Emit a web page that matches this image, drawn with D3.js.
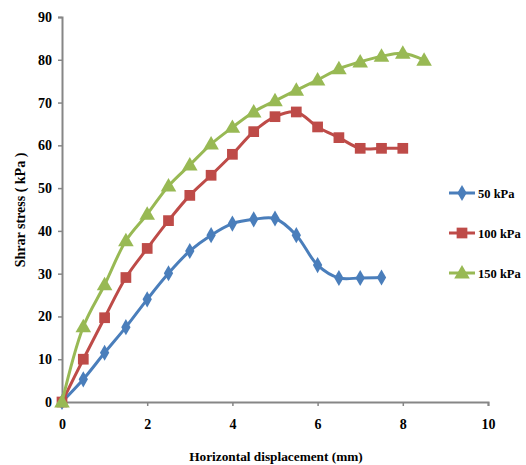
<!DOCTYPE html>
<html>
<head>
<meta charset="utf-8">
<script src="https://cdn.jsdelivr.net/npm/d3@7"></script>
<style>
  html, body { margin: 0; padding: 0; background: #fff; }
  svg text { font-family: "Liberation Serif", "Times New Roman", serif; font-weight: bold; fill: #000; }
</style>
</head>
<body>
<svg id="chart" width="526" height="465"></svg>
<script>
const seriesNames = ["50 kPa", "100 kPa", "150 kPa"];
const x50 = [0, 0.5, 1, 1.5, 2, 2.5, 3, 3.5, 4, 4.5, 5, 5.5, 6, 6.5, 7, 7.5];
const y50 = [0, 5.3, 11.5, 17.5, 24.0, 30.1, 35.3, 39.0, 41.7, 42.7, 42.9, 39.0, 32.0, 29.0, 29.0, 29.1];
const x100 = [0, 0.5, 1, 1.5, 2, 2.5, 3, 3.5, 4, 4.5, 5, 5.5, 6, 6.5, 7, 7.5, 8];
const y100 = [0, 10.0, 19.7, 29.1, 35.9, 42.4, 48.3, 53.0, 57.9, 63.2, 66.7, 67.8, 64.3, 61.8, 59.3, 59.3, 59.3];
const x150 = [0, 0.5, 1, 1.5, 2, 2.5, 3, 3.5, 4, 4.5, 5, 5.5, 6, 6.5, 7, 7.5, 8, 8.5];
const y150 = [0, 17.6, 27.4, 37.7, 43.9, 50.5, 55.4, 60.3, 64.2, 67.8, 70.4, 72.9, 75.3, 77.9, 79.5, 80.8, 81.5, 79.9];
const xTicks = [0, 2, 4, 6, 8, 10];
const yTicks = [0, 10, 20, 30, 40, 50, 60, 70, 80, 90];
const colors = ["#4A7EBB", "#BE4B48", "#98B954"];
const markerTypes = [d3.symbolDiamond, d3.symbolSquare, d3.symbolTriangle];
const markerSizes = [75, 115, 105];

const svg = d3.select("#chart");
const x = d3.scaleLinear().domain([0, 10]).range([62, 488]);
const y = d3.scaleLinear().domain([0, 90]).range([402, 17]);
const axisColor = "#868686";

// x axis
const gx = svg.append("g").attr("transform", `translate(0,${y(0)})`)
  .call(d3.axisBottom(x).tickValues(xTicks).tickSize(4).tickPadding(13).tickFormat(d3.format("d")));
gx.select(".domain").attr("stroke", axisColor).attr("stroke-width", 2);
gx.selectAll(".tick line").attr("stroke", axisColor).attr("stroke-width", 1.5);
gx.selectAll(".tick text").attr("font-size", 14).style("font-family", "Liberation Serif").style("font-weight", "bold");

// y axis
const gy = svg.append("g").attr("transform", `translate(${x(0)},0)`)
  .call(d3.axisLeft(y).tickValues(yTicks).tickSize(4).tickPadding(6).tickFormat(d3.format("d")));
gy.select(".domain").attr("stroke", axisColor).attr("stroke-width", 2);
gy.selectAll(".tick line").attr("stroke", axisColor).attr("stroke-width", 1.5);
gy.selectAll(".tick text").attr("font-size", 14).style("font-family", "Liberation Serif").style("font-weight", "bold");

// titles
svg.append("text").attr("x", 276).attr("y", 461).attr("text-anchor", "middle")
  .attr("font-size", 13.3).text("Horizontal displacement (mm)");
svg.append("text").attr("transform", "translate(25,210) rotate(-90)").attr("text-anchor", "middle")
  .attr("font-size", 14).text("Shrar stress ( kPa )");

const data = [
  x50.map((v, i) => [v, y50[i]]),
  x100.map((v, i) => [v, y100[i]]),
  x150.map((v, i) => [v, y150[i]])
];

const line = d3.line().x(d => x(d[0])).y(d => y(d[1])).curve(d3.curveCatmullRom.alpha(0.5));

data.forEach((pts, k) => {
  const g = svg.append("g");
  g.append("path").datum(pts).attr("d", line).attr("fill", "none")
    .attr("stroke", colors[k]).attr("stroke-width", 3);
  g.selectAll("path.m").data(pts).join("path").attr("class", "m")
    .attr("transform", d => `translate(${x(d[0])},${y(d[1]) + (k === 2 ? 1 : 0)})`)
    .attr("d", d3.symbol().type(markerTypes[k]).size(markerSizes[k]))
    .attr("fill", colors[k]);
});

// legend
const legY = [193, 233, 273];
seriesNames.forEach((name, k) => {
  const g = svg.append("g");
  g.append("line").attr("x1", 449).attr("x2", 475).attr("y1", legY[k]).attr("y2", legY[k])
    .attr("stroke", colors[k]).attr("stroke-width", 3);
  g.append("path").attr("transform", `translate(462,${legY[k] + (k === 2 ? 1 : 0)})`)
    .attr("d", d3.symbol().type(markerTypes[k]).size(markerSizes[k])).attr("fill", colors[k]);
  g.append("text").attr("x", 478).attr("y", legY[k] + 4.5).attr("font-size", 12.5).text(name);
});
</script>
</body>
</html>
